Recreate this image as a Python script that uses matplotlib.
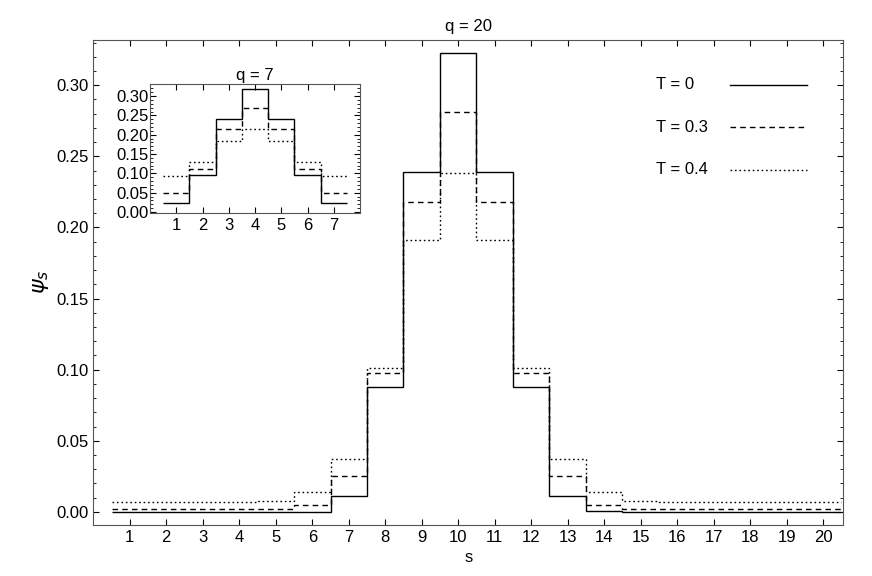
import numpy as np
import matplotlib.pyplot as plt
from matplotlib.ticker import MultipleLocator

plt.rcParams['font.family'] = ['Liberation Sans', 'DejaVu Sans']

s_main = np.arange(1, 21)
psi_T0 = [0, 0, 0, 0, 0, 0, 0.011, 0.088, 0.239, 0.323, 0.239, 0.088, 0.011, 0.0005, 0, 0, 0, 0, 0, 0]
psi_T03 = [0.002, 0.002, 0.002, 0.002, 0.002, 0.005, 0.025, 0.098, 0.218, 0.281,
           0.218, 0.098, 0.025, 0.005, 0.002, 0.002, 0.002, 0.002, 0.002, 0.002]
psi_T04 = [0.007, 0.007, 0.007, 0.007, 0.008, 0.014, 0.037, 0.101, 0.191, 0.238,
           0.191, 0.101, 0.037, 0.014, 0.008, 0.007, 0.007, 0.007, 0.007, 0.007]

s_in = np.arange(1, 8)
in_T0 = [0.022, 0.095, 0.240, 0.319, 0.240, 0.095, 0.022]
in_T03 = [0.050, 0.112, 0.216, 0.270, 0.216, 0.112, 0.050]
in_T04 = [0.092, 0.129, 0.184, 0.216, 0.184, 0.129, 0.092]

labels = ["T = 0", "T = 0.3", "T = 0.4"]
styles = ["-", (0, (4, 3)), (0, (1.2, 2))]

def style_axes(ax, size):
    ax.tick_params(which='both', direction='in', top=True, right=True, labelsize=size)
    ax.tick_params(which='major', length=4)
    ax.tick_params(which='minor', length=2)
    for sp in ax.spines.values():
        sp.set_color('#555555')

fig = plt.figure(figsize=(8.72, 5.76), dpi=100)
ax = fig.add_axes([0.107, 0.089, 0.860, 0.842])
for vals, ls in zip([psi_T0, psi_T03, psi_T04], styles):
    ax.stairs(vals, np.arange(0.5, 21), baseline=None, color='black', lw=1.0, linestyle=ls)
ax.set_xlim(0, 20.55)
ax.set_ylim(-0.009, 0.332)
ax.set_xticks(s_main)
ax.yaxis.set_major_locator(MultipleLocator(0.05))
ax.yaxis.set_minor_locator(MultipleLocator(0.01))
ax.yaxis.set_major_formatter(lambda v, p: f"{v:.2f}")
ax.tick_params(axis='x', which='minor', bottom=False, top=False)
style_axes(ax, 12)
ax.set_xlabel("s", fontsize=12)
ax.set_ylabel(r"$\psi_s$", fontsize=16)
ax.set_title("q = 20", fontsize=12)

# legend: label on the left, line sample on the right
for i, (lab, ls) in enumerate(zip(labels, styles)):
    y = 0.907 - i * 0.0875
    ax.text(0.751, y, lab, transform=ax.transAxes, fontsize=12, va='center', ha='left')
    ax.plot([0.849, 0.952], [y, y], transform=ax.transAxes, color='black', lw=1.0, linestyle=ls)

ins = fig.add_axes([0.172, 0.630, 0.241, 0.224])
for vals, ls in zip([in_T0, in_T03, in_T04], styles):
    ins.stairs(vals, np.arange(0.5, 8), baseline=None, color='black', lw=1.0, linestyle=ls)
ins.set_xlim(0, 8)
ins.set_ylim(-0.003, 0.331)
ins.set_xticks(s_in)
ins.yaxis.set_major_locator(MultipleLocator(0.05))
ins.yaxis.set_minor_locator(MultipleLocator(0.01))
ins.yaxis.set_major_formatter(lambda v, p: f"{v:.2f}")
style_axes(ins, 12)
ins.tick_params(axis='y', pad=1)
ins.set_title("q = 7", fontsize=12, pad=3)

fig.savefig("out.png")
